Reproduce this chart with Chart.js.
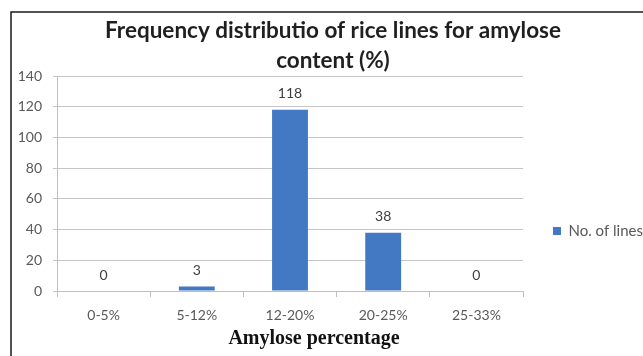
<!DOCTYPE html>
<html>
<head>
<meta charset="utf-8">
<title>Frequency distribution of rice lines for amylose content</title>
<script src="https://cdn.jsdelivr.net/npm/chart.js@4"></script>
<style>
  html, body { margin: 0; padding: 0; background: #ffffff; overflow: hidden; }
  canvas { display: block; }
</style>
</head>
<body>
<canvas id="chart" width="643" height="356"></canvas>
<script>
// Amylose classes and the number of rice lines falling in each
const categories = ['0-5%', '5-12%', '12-20%', '20-25%', '25-33%'];
const lineCounts = [0, 3, 118, 38, 0];
const yTicks = [0, 20, 40, 60, 80, 100, 120, 140];

const seriesLabel = 'No. of lines';
const titleLines = ['Frequency distributio of rice lines for amylose', 'content (%)'];
const xCaption = 'Amylose percentage';

const BAR_BLUE = '#4379c2';
const TICK_GREY = '#595959';
const LABEL_FONT = 'Lato, "Open Sans", sans-serif';

// Thin black frame along the top and left edges of the figure
const outerFrame = {
  id: 'outerFrame',
  beforeDraw(chart) {
    const ctx = chart.ctx;
    ctx.save();
    ctx.fillStyle = '#ffffff';
    ctx.fillRect(0, 0, chart.width, chart.height);
    ctx.strokeStyle = '#1a1a1a';
    ctx.lineWidth = 1.5;
    ctx.beginPath();
    ctx.moveTo(11, chart.height);
    ctx.lineTo(11, 12);
    ctx.lineTo(chart.width, 12);
    ctx.stroke();
    ctx.restore();
  }
};

// Count written above each bar
const valueLabels = {
  id: 'valueLabels',
  afterDatasetsDraw(chart) {
    const ctx = chart.ctx;
    const meta = chart.getDatasetMeta(0);
    const values = chart.data.datasets[0].data;
    ctx.save();
    ctx.font = '14px ' + LABEL_FONT;
    ctx.fillStyle = '#404040';
    ctx.textAlign = 'center';
    ctx.textBaseline = 'middle';
    meta.data.forEach((bar, i) => {
      ctx.fillText(String(values[i]), bar.x, bar.y - 16);
    });
    ctx.restore();
  }
};

// Serif caption under the category axis
const axisCaption = {
  id: 'axisCaption',
  afterDraw(chart) {
    const area = chart.chartArea;
    const ctx = chart.ctx;
    ctx.save();
    ctx.font = 'bold 20px "Liberation Serif", "Times New Roman", serif';
    ctx.fillStyle = '#111111';
    ctx.textAlign = 'center';
    ctx.textBaseline = 'middle';
    ctx.fillText(xCaption, (area.left + area.right) / 2 + 24, 339);
    ctx.restore();
  }
};

// Fixed-width legend column on the right (entry lowered a little),
// title centred slightly right of the canvas middle
const LEGEND_WIDTH = 120;
const LEGEND_DROP = 53;
const TITLE_SHIFT = 11.5;
const figureLayout = {
  id: 'figureLayout',
  afterInit(chart) {
    const legend = chart.legend;
    const fit = legend.fit;
    legend.fit = function () {
      fit.call(this);
      this.width = LEGEND_WIDTH;
    };
  },
  afterLayout(chart) {
    const legend = chart.legend;
    legend.top += LEGEND_DROP;
    legend.bottom += LEGEND_DROP;
    const title = chart.titleBlock;
    if (title) {
      title.left += TITLE_SHIFT;
      title.right += TITLE_SHIFT;
    }
  }
};

new Chart(document.getElementById('chart'), {
  type: 'bar',
  data: {
    labels: categories,
    datasets: [{
      label: seriesLabel,
      data: lineCounts,
      backgroundColor: BAR_BLUE,
      borderWidth: 0,
      barPercentage: 0.385,
      categoryPercentage: 1.0
    }]
  },
  options: {
    responsive: false,
    animation: false,
    devicePixelRatio: 1,
    layout: { padding: 0 },
    plugins: {
      title: {
        display: true,
        text: titleLines,
        color: '#1f1f1f',
        font: { family: LABEL_FONT, size: 22.5, weight: 'bold', lineHeight: 1.3 },
        padding: { top: 16.5, bottom: 1 }
      },
      legend: {
        display: true,
        position: 'right',
        align: 'center',
        labels: {
          boxWidth: 8,
          boxHeight: 8,
          padding: 30,
          color: TICK_GREY,
          font: { family: LABEL_FONT, size: 15 }
        }
      },
      tooltip: { enabled: false }
    },
    scales: {
      x: {
        grid: {
          display: true,
          drawOnChartArea: false,
          drawTicks: true,
          tickLength: 6,
          color: '#bfbfbf',
          offset: true
        },
        border: { display: true, color: '#bfbfbf', width: 1 },
        ticks: {
          color: TICK_GREY,
          font: { family: LABEL_FONT, size: 14 },
          padding: 10,
          maxRotation: 0
        },
        afterFit(scale) { scale.height = 65; }
      },
      y: {
        min: 0,
        max: 140,
        afterBuildTicks(scale) {
          scale.ticks = yTicks.map(v => ({ value: v }));
        },
        grid: {
          color: '#c6c6c6',
          lineWidth: 1,
          tickLength: 4,
          drawTicks: true
        },
        border: { display: true, color: '#bfbfbf', width: 1 },
        ticks: {
          color: TICK_GREY,
          font: { family: LABEL_FONT, size: 14 },
          padding: 11
        },
        afterFit(scale) { scale.width = 57; }
      }
    }
  },
  plugins: [outerFrame, figureLayout, valueLabels, axisCaption]
});
</script>
</body>
</html>
